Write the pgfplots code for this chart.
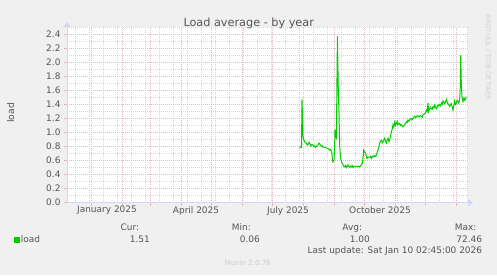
\documentclass[border=0pt]{standalone}
\usepackage{pgfplots}
\pgfplotsset{compat=1.18}
\usepackage{fontspec}
\setmainfont{DejaVu Sans}
\usetikzlibrary{arrows.meta}
\definecolor{bgc}{HTML}{F0F0F0}
\definecolor{txt}{HTML}{555555}
\definecolor{mgrid}{HTML}{EDB6B6}
\definecolor{grd}{HTML}{D8D8D8}
\definecolor{axc}{HTML}{CFD6F8}
\definecolor{ln}{HTML}{00CC00}
\begin{document}
\begin{tikzpicture}[x=1bp,y=1bp]
\fill[bgc] (0,0) rectangle (497,275);
\path[use as bounding box] (0,0) rectangle (497,275);
\begin{axis}[
  at={(67bp,72.3bp)}, anchor=south west,
  scale only axis, width=401bp, height=175.5bp,
  xmin=-24, xmax=377, ymin=0, ymax=2.5,
  axis lines=left,
  axis background/.style={fill=white},
  axis line style={axc, line width=1bp},
  x axis line style={-{Triangle[length=5bp,width=7bp]}, shorten >=-5bp},
  y axis line style={-{Triangle[length=5bp,width=7bp]}, shorten >=-5bp},
  xtick={0,31,59,90,120,151,181,212,243,273,304,334,365},
  xticklabels={},
  minor xtick={-16,-2,...,376},
  ytick={0,0.2,0.4,0.6,0.8,1.0,1.2,1.4,1.6,1.8,2.0,2.2,2.4},
  minor ytick={0.1,0.3,0.5,0.7,0.9,1.1,1.3,1.5,1.7,1.9,2.1,2.3,2.5},
  yticklabel style={/pgf/number format/fixed, /pgf/number format/fixed zerofill, /pgf/number format/precision=1, /pgf/number format/assume math mode=true},
  grid=both,
  major grid style={mgrid, line width=0.7bp, dash pattern=on 1bp off 1bp},
  minor grid style={grd, line width=0.7bp, dash pattern=on 1bp off 1bp},
  tick align=outside,
  major tick length=3bp, minor tick length=0bp,
  tick style={mgrid, line width=0.7bp},
  tick label style={txt, font=\fontsize{9}{10}\selectfont},
  extra x ticks={16,105,197,289},
  extra x tick labels={January 2025, April 2025, July 2025, October 2025},
  extra x tick style={grid=none, major tick length=0bp},
]
\addplot[ln, line width=1bp] table {
d v
208.7 0.78
209.7 0.80
210.5 0.79
211.0 1.47
212.0 0.94
212.7 0.90
213.7 0.87
214.5 0.85
215.4 0.85
216.2 0.82
217.0 0.83
218.0 0.86
218.7 0.84
219.7 0.81
220.8 0.83
222.0 0.82
223.0 0.80
223.7 0.81
224.6 0.79
225.4 0.80
226.2 0.82
227.0 0.82
228.0 0.85
228.7 0.84
229.5 0.82
230.4 0.80
231.2 0.81
232.0 0.79
233.5 0.79
235.4 0.78
237.0 0.77
238.7 0.75
239.5 0.76
240.4 0.73
241.0 0.70
241.4 0.61
242.0 0.58
243.0 0.61
243.6 0.80
244.0 1.04
244.7 0.94
245.4 0.92
246.4 2.37
247.3 1.60
248.0 1.27
248.7 0.80
249.5 0.65
250.4 0.58
251.2 0.56
252.0 0.54
252.8 0.52
253.7 0.51
254.6 0.53
255.4 0.50
256.2 0.52
257.0 0.54
258.0 0.51
258.7 0.50
259.5 0.52
260.4 0.51
261.2 0.53
262.0 0.50
263.5 0.52
265.4 0.51
267.0 0.52
268.7 0.51
269.5 0.52
270.4 0.54
271.4 0.56
272.2 0.66
272.7 0.75
273.5 0.73
274.7 0.70
275.4 0.66
276.0 0.63
277.2 0.65
278.7 0.65
279.5 0.66
280.4 0.63
281.2 0.66
282.0 0.65
283.0 0.67
283.7 0.66
284.5 0.66
285.4 0.68
286.2 0.72
287.0 0.75
288.0 0.80
288.7 0.85
289.5 0.88
290.4 0.89
291.2 0.85
292.0 0.87
293.0 0.90
293.7 0.92
294.5 0.88
295.4 0.85
296.2 0.90
297.0 0.92
298.0 0.87
298.7 0.89
299.5 0.95
300.4 1.01
301.2 1.05
302.0 1.11
302.8 1.08
303.7 1.15
304.5 1.10
305.4 1.13
306.2 1.16
307.0 1.11
308.0 1.13
308.7 1.13
309.5 1.10
310.4 1.11
311.2 1.09
312.0 1.08
313.0 1.10
313.7 1.11
314.5 1.13
315.4 1.15
316.2 1.14
317.0 1.18
318.0 1.16
318.7 1.18
319.5 1.20
320.4 1.20
321.2 1.18
322.0 1.20
323.0 1.22
323.7 1.23
324.5 1.21
325.4 1.22
326.2 1.24
327.0 1.235
328.0 1.22
328.7 1.235
329.5 1.24
330.4 1.23
331.2 1.22
332.0 1.25
333.0 1.26
333.7 1.27
334.5 1.28
335.4 1.32
336.2 1.30
337.0 1.42
337.6 1.30
338.7 1.34
339.5 1.36
340.4 1.34
341.2 1.33
342.0 1.37
343.0 1.35
343.7 1.39
344.5 1.36
345.4 1.34
346.2 1.38
347.0 1.37
348.0 1.40
348.7 1.39
349.5 1.38
350.4 1.42
351.2 1.40
352.0 1.45
353.0 1.43
353.7 1.41
354.5 1.44
355.4 1.47
356.2 1.43
357.0 1.41
358.0 1.39
358.7 1.37
359.5 1.40
360.4 1.41
361.2 1.36
362.0 1.32
362.8 1.38
363.7 1.45
364.5 1.40
365.4 1.42
366.2 1.46
367.0 1.44
367.7 1.42
368.5 1.45
369.2 1.60
369.7 2.10
370.3 1.70
371.0 1.51
372.0 1.44
373.0 1.49
373.7 1.46
374.4 1.47
375.2 1.51
};
\end{axis}
\node[txt, anchor=base, font=\fontsize{11.3}{13}\selectfont] at (248.7,248.7) {Load average - by year};
\node[txt, rotate=90, font=\fontsize{9.3}{11}\selectfont] at (10.7,162) {load};
\node[rotate=-90, anchor=west, font=\fontsize{6.7}{8}\selectfont, color={rgb,255:red,208;green,208;blue,208}] at (488,264) {RRDTOOL / TOBI OETIKER};
\fill[ln] (14,32.3) rectangle (20,38);
\node[txt, anchor=base west, inner sep=0pt, font=\fontsize{9}{10}\selectfont] at (20.7,32.5) {load};
\begin{scope}[every node/.style={txt, anchor=base east, inner sep=0pt, font=\fontsize{9}{10}\selectfont}]
\node at (139.3,44.2) {Cur:};
\node at (150,32.5) {1.51};
\node at (251,44.2) {Min:};
\node at (260,32.5) {0.06};
\node at (362.3,44.2) {Avg:};
\node at (370,32.5) {1.00};
\node at (476.7,44.2) {Max:};
\node at (482.3,32.5) {72.46};
\node at (482.3,21.5) {Last update: Sat Jan 10 02:45:00 2026};
\end{scope}
\node[anchor=base, inner sep=0pt, font=\fontsize{7.1}{8}\selectfont, color={rgb,255:red,204;green,204;blue,204}] at (247.7,9.7) {Munin 2.0.76};
\end{tikzpicture}
\end{document}
